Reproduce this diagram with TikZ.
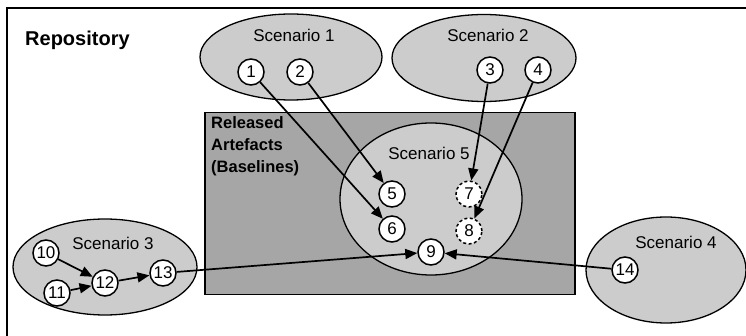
\documentclass[tikz,border=0pt]{standalone}
\usepackage{fontspec}
\setmainfont{Liberation Sans}
\usetikzlibrary{shapes.geometric,arrows.meta}
\definecolor{scfill}{RGB}{204,204,204}
\definecolor{bfill}{RGB}{166,166,166}
\begin{document}
\begin{tikzpicture}[x=1pt,y=-1pt,
 scen/.style={ellipse,draw,line width=1.3pt,fill=scfill,inner sep=0pt},
 art/.style={circle,draw,line width=1.5pt,fill=white,minimum size=26pt,inner sep=0pt,font=\fontsize{17}{17}\selectfont},
 artd/.style={art,dash pattern=on 3pt off 2.5pt},
 lbl/.style={font=\fontsize{17}{17}\selectfont,inner sep=0pt},
 arr/.style={line width=1.7pt,-{Triangle[length=12pt,width=10pt]}}]
\useasboundingbox (0,0) rectangle (746,336);
\begin{scope}
\clip (0,0) rectangle (746,336);
\node[draw,line width=1.6pt,anchor=north west,minimum width=780pt,minimum height=360pt,inner sep=0pt] (repo) at (6,7) {};
\end{scope}
\node[anchor=west,inner sep=0pt,font=\bfseries\fontsize{20}{20}\selectfont] (repolbl) at (25,40) {Repository};
% scenario ellipses
\node[scen,minimum width=182pt,minimum height=86pt] (s1) at (291,57) {};
\node[scen,minimum width=184pt,minimum height=87pt] (s2) at (484,58) {};
\node[scen,minimum width=184pt,minimum height=96pt] (s3) at (105,267) {};
\node[scen,minimum width=160pt,minimum height=106pt] (s4) at (666,270) {};
% released rect
\node[draw,fill=bfill,line width=1.5pt,anchor=north west,minimum width=370pt,minimum height=182pt,inner sep=0pt] (rel) at (204,112) {};
\node[anchor=north west,inner sep=0pt,align=left,font=\bfseries\fontsize{16.5}{22}\selectfont] (rellbl) at (211,116) {Released\\Artefacts\\(Baselines)};
\node[scen,minimum width=182pt,minimum height=152pt] (s5) at (431,199) {};
% labels
\node[lbl] (l1) at (294,35) {Scenario 1};
\node[lbl] (l2) at (488,35) {Scenario 2};
\node[lbl] (l3) at (113,243) {Scenario 3};
\node[lbl] (l4) at (676,242) {Scenario 4};
\node[lbl] (l5) at (429,153) {Scenario 5};
% artefacts
\node[art] (n1) at (251,72) {1};
\node[art] (n2) at (300,72) {2};
\node[art] (n3) at (490,70) {3};
\node[art] (n4) at (538,70) {4};
\node[art] (n5) at (392,194) {5};
\node[art] (n6) at (392,229) {6};
\node[artd] (n7) at (469,194) {7};
\node[artd] (n8) at (469,231) {8};
\node[art] (n9) at (431,252) {9};
\node[art] (n10) at (46,253) {10};
\node[art] (n11) at (57,293) {11};
\node[art] (n12) at (105,283) {12};
\node[art] (n13) at (163,273) {13};
\node[art] (n14) at (625,270) {14};
% connectors
\draw[arr] (n1) -- (n6);
\draw[arr] (n2) -- (n5);
\draw[arr] (n3) -- (n7);
\draw[arr] (n4) -- (n8);
\draw[arr] (n10) -- (n12);
\draw[arr] (n11) -- (n12);
\draw[arr] (n12) -- (n13);
\draw[arr] (n13) -- (n9);
\draw[arr] (n14) -- (n9);
\end{tikzpicture}
\end{document}
